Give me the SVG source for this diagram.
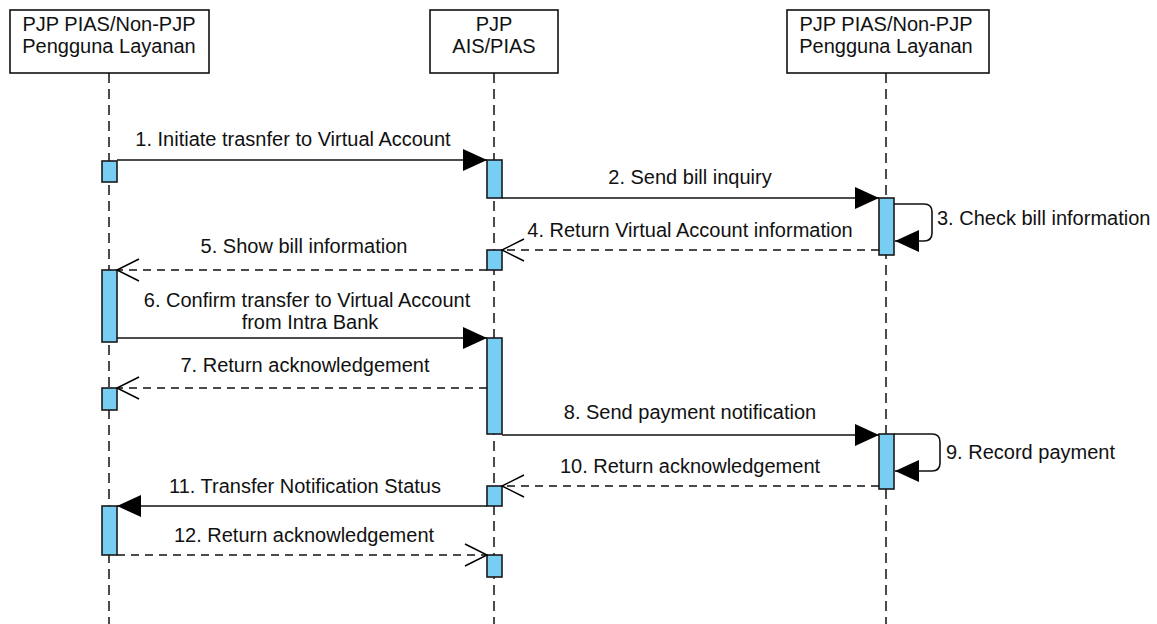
<svg xmlns="http://www.w3.org/2000/svg" width="1157" height="624" viewBox="0 0 1157 624">
<defs>
<marker id="filled" markerUnits="userSpaceOnUse" markerWidth="26" markerHeight="24" refX="24" refY="11" orient="auto">
<path d="M0,0 L24,11 L0,22 Z" fill="#000"/>
</marker>
<marker id="open" markerUnits="userSpaceOnUse" markerWidth="26" markerHeight="26" refX="23" refY="12" orient="auto">
<path d="M1,1 L23,12 L1,23" fill="none" stroke="#000" stroke-width="1.5"/>
</marker>
<style>
text{font-family:"Liberation Sans",Arial,Helvetica,sans-serif;fill:#111}
.head{font-size:20px;text-anchor:middle}
.lbl{font-size:20px;text-anchor:middle}
.lbls{font-size:20px;text-anchor:start}
.box{fill:#fff;stroke:#111;stroke-width:1.6}
.life{stroke:#111;stroke-width:1.5;stroke-dasharray:10 6;fill:none}
.act{fill:#78cdf3;stroke:#1a1a1a;stroke-width:1.6}
.msg{stroke:#111;stroke-width:1.6;fill:none;marker-end:url(#filled)}
.ret{stroke:#111;stroke-width:1.6;fill:none;stroke-dasharray:8 6;marker-end:url(#open)}
</style>
</defs>
<rect width="1157" height="624" fill="#fff"/>
<g id="lifeline-1">
<line class="life" x1="109" y1="73" x2="109" y2="624"/>
<rect class="box" x="10" y="10" width="199" height="63"/>
<text class="head" x="109" y="31">PJP PIAS/Non-PJP</text>
<text class="head" x="109" y="53">Pengguna Layanan</text>
<rect class="act" x="102" y="161" width="15" height="21"/>
<rect class="act" x="102" y="270" width="15" height="72"/>
<rect class="act" x="102" y="388" width="15" height="22"/>
<rect class="act" x="102" y="506" width="15" height="49"/>
</g>
<g id="lifeline-2">
<line class="life" x1="494" y1="73" x2="494" y2="624"/>
<rect class="box" x="430" y="10" width="128" height="63"/>
<text class="head" x="494" y="31">PJP</text>
<text class="head" x="494" y="53">AIS/PIAS</text>
<rect class="act" x="487" y="160" width="15" height="38"/>
<rect class="act" x="487" y="250" width="15" height="20"/>
<rect class="act" x="487" y="338" width="15" height="96"/>
<rect class="act" x="487" y="486" width="15" height="20"/>
<rect class="act" x="487" y="555" width="15" height="22"/>
</g>
<g id="lifeline-3">
<line class="life" x1="886" y1="73" x2="886" y2="624"/>
<rect class="box" x="787" y="10" width="202" height="63"/>
<text class="head" x="886" y="31">PJP PIAS/Non-PJP</text>
<text class="head" x="886" y="53">Pengguna Layanan</text>
<rect class="act" x="879" y="198" width="15" height="57"/>
<rect class="act" x="879" y="434" width="15" height="55"/>
</g>
<g id="connectors">
<line class="msg" x1="117" y1="160" x2="487" y2="160"/>
<line class="msg" x1="502" y1="198" x2="879" y2="198"/>
<path class="msg" d="M894,204 L924,204 Q932,204 932,212 L932,233 Q932,241 924,241 L895,241"/>
<line class="ret" x1="879" y1="250" x2="502" y2="250"/>
<line class="ret" x1="487" y1="270" x2="117" y2="270"/>
<line class="msg" x1="117" y1="338" x2="487" y2="338"/>
<line class="ret" x1="487" y1="388" x2="117" y2="388"/>
<line class="msg" x1="502" y1="435" x2="879" y2="435"/>
<path class="msg" d="M894,434 L932,434 Q940,434 940,442 L940,463 Q940,471 932,471 L895,471"/>
<line class="ret" x1="879" y1="486" x2="502" y2="486"/>
<line class="msg" x1="487" y1="506" x2="117" y2="506"/>
<line class="ret" x1="117" y1="555" x2="487" y2="555"/>
</g>
<g id="labels">
<text class="lbl" x="293" y="146">1. Initiate trasnfer to Virtual Account</text>
<text class="lbl" x="690" y="184">2. Send bill inquiry</text>
<text class="lbls" x="937" y="225">3. Check bill information</text>
<text class="lbl" x="690" y="237">4. Return Virtual Account information</text>
<text class="lbl" x="304" y="253">5. Show bill information</text>
<text class="lbl" x="307" y="307">6. Confirm transfer to Virtual Account</text>
<text class="lbl" x="310" y="329">from Intra Bank</text>
<text class="lbl" x="305" y="372">7. Return acknowledgement</text>
<text class="lbl" x="690" y="419">8. Send payment notification</text>
<text class="lbls" x="946" y="459">9. Record payment</text>
<text class="lbl" x="690" y="473">10. Return acknowledgement</text>
<text class="lbl" x="305" y="493">11. Transfer Notification Status</text>
<text class="lbl" x="304" y="542">12. Return acknowledgement</text>
</g>
</svg>
